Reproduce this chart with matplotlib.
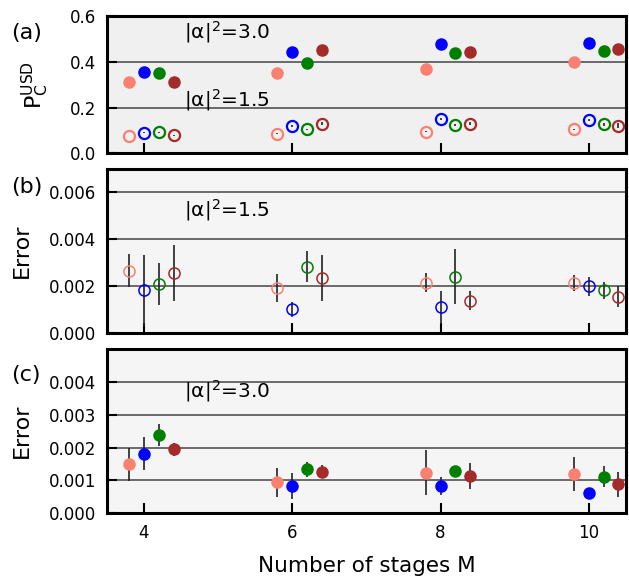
import matplotlib.pyplot as plt
import numpy as np

# Number of stages and the four series plotted at each stage
stages = np.array([4, 6, 8, 10])
series_colors = ["salmon", "blue", "green", "brown"]
series_offsets = [-0.2, 0.0, 0.2, 0.4]

# (a) success probability, |alpha|^2 = 3.0 (filled) and 1.5 (open)
prob_30 = [
    [0.311, 0.350, 0.368, 0.400],  # salmon
    [0.357, 0.442, 0.479, 0.484],  # blue
    [0.351, 0.396, 0.437, 0.447],  # green
    [0.310, 0.452, 0.443, 0.456],  # brown
]
prob_30_err = [
    [0.002, 0.002, 0.002, 0.002],
    [0.003, 0.003, 0.003, 0.003],
    [0.003, 0.003, 0.003, 0.003],
    [0.004, 0.008, 0.005, 0.006],
]
prob_15 = [
    [0.076, 0.086, 0.095, 0.104],
    [0.089, 0.120, 0.148, 0.145],
    [0.092, 0.104, 0.124, 0.127],
    [0.078, 0.130, 0.129, 0.121],
]
prob_15_err = [
    [0.001, 0.001, 0.001, 0.002],
    [0.002, 0.004, 0.004, 0.006],
    [0.002, 0.002, 0.004, 0.006],
    [0.003, 0.007, 0.007, 0.012],
]

# (b) error, |alpha|^2 = 1.5
error_15 = [
    [0.00265, 0.00191, 0.00214, 0.00212],
    [0.00181, 0.00100, 0.00110, 0.00198],
    [0.00209, 0.00283, 0.00240, 0.00181],
    [0.00256, 0.00234, 0.00137, 0.00155],
]
error_15_err = [
    [0.00070, 0.00060, 0.00040, 0.00035],
    [0.00150, 0.00034, 0.00070, 0.00040],
    [0.00091, 0.00065, 0.00118, 0.00035],
    [0.00120, 0.00097, 0.00040, 0.00045],
]

# (c) error, |alpha|^2 = 3.0
error_30 = [
    [0.00149, 0.00094, 0.00124, 0.00119],
    [0.00181, 0.00083, 0.00084, 0.00063],
    [0.00239, 0.00134, 0.00128, 0.00111],
    [0.00195, 0.00127, 0.00114, 0.00088],
]
error_30_err = [
    [0.00050, 0.00045, 0.00068, 0.00052],
    [0.00050, 0.00040, 0.00027, 0.00010],
    [0.00033, 0.00023, 0.00017, 0.00032],
    [0.00020, 0.00020, 0.00040, 0.00039],
]

plt.rcParams["font.family"] = "DejaVu Sans"

fig = plt.figure(figsize=(6.29, 5.76), dpi=100)
ax_a = fig.add_axes([0.170, 0.734, 0.825, 0.238])
ax_b = fig.add_axes([0.170, 0.422, 0.825, 0.285])
ax_c = fig.add_axes([0.170, 0.109, 0.825, 0.285])


def style_axis(ax, facecolor, ylim, yticks, fmt):
    ax.set_facecolor(facecolor)
    ax.set_xlim(3.5, 10.5)
    ax.set_ylim(*ylim)
    ax.set_xticks(stages)
    ax.set_yticks(yticks)
    ax.set_yticklabels([fmt.format(v) for v in yticks])
    ax.tick_params(direction="in", length=7, width=1.5, labelsize=12, pad=7.5)
    ax.yaxis.grid(True, color="#444444", linewidth=1.1)
    ax.set_axisbelow(True)
    for spine in ax.spines.values():
        spine.set_linewidth(2.2)


def draw_series(ax, values, errors, filled, ms, mew):
    for color, offset, vals, errs in zip(series_colors, series_offsets, values, errors):
        ax.errorbar(
            stages + offset,
            vals,
            yerr=errs,
            fmt="o",
            ms=ms,
            mew=mew,
            mec=color,
            mfc=color if filled else "none",
            ecolor="#222222",
            elinewidth=1.2,
            capsize=0,
            zorder=3,
        )


# (a)
style_axis(ax_a, "#f0f0f0", (0, 0.6), [0.0, 0.2, 0.4, 0.6], "{:.1f}")
draw_series(ax_a, prob_30, prob_30_err, True, 8, 1)
draw_series(ax_a, prob_15, prob_15_err, False, 8, 1.6)
ax_a.set_xticklabels([])
ax_a.set_ylabel(r"$\mathrm{P_C^{USD}}$", fontsize=16)
ax_a.yaxis.set_label_coords(-0.108, 0.5)
ax_a.text(5.12, 0.53, "|α|$^2$=3.0", fontsize=14.5, ha="center", va="center")
ax_a.text(5.12, 0.232, "|α|$^2$=1.5", fontsize=14.5, ha="center", va="center")

# (b)
style_axis(ax_b, "#f5f5f5", (0, 0.007), [0.0, 0.002, 0.004, 0.006], "{:.3f}")
draw_series(ax_b, error_15, error_15_err, False, 8, 1.1)
ax_b.set_xticklabels([])
ax_b.set_ylabel("Error", fontsize=16)
ax_b.yaxis.set_label_coords(-0.145, 0.5)
ax_b.text(5.12, 0.00526, "|α|$^2$=1.5", fontsize=14.5, ha="center", va="center")

# (c)
style_axis(ax_c, "#f5f5f5", (0, 0.005), [0.0, 0.001, 0.002, 0.003, 0.004], "{:.3f}")
draw_series(ax_c, error_30, error_30_err, True, 8, 1)
ax_c.set_ylabel("Error", fontsize=16)
ax_c.yaxis.set_label_coords(-0.145, 0.5)
ax_c.set_xlabel("Number of stages M", fontsize=15.5, labelpad=10)
ax_c.text(5.12, 0.00371, "|α|$^2$=3.0", fontsize=14.5, ha="center", va="center")

fig.text(0.018, 0.943, "(a)", fontsize=16, va="center")
fig.text(0.018, 0.675, "(b)", fontsize=16, va="center")
fig.text(0.018, 0.349, "(c)", fontsize=16, va="center")

plt.savefig("out.png", dpi=100)
